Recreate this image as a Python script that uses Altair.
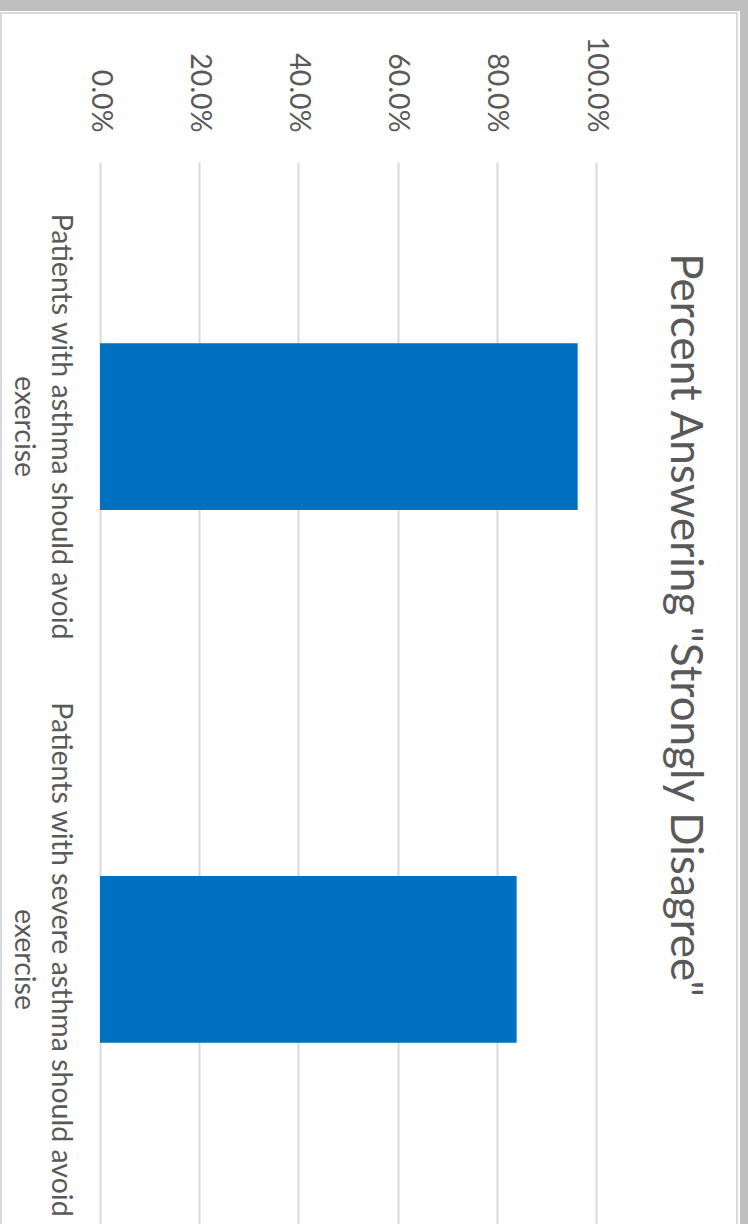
import altair as alt
import pandas as pd

# Survey statements and the share of respondents answering "Strongly Disagree"
statements = [
    "Patients with asthma should avoid exercise",
    "Patients with severe asthma should avoid exercise",
]
share_strongly_disagree = [0.963, 0.840]
tick_values = [0.0, 0.2, 0.4, 0.6, 0.8, 1.0]
chart_title = 'Percent Answering "Strongly Disagree"'

df = pd.DataFrame({"statement": statements, "share": share_strongly_disagree})

FONT = "Lato"
TEXT = "#595959"
BAR = "#0070c0"
GRID = "#d9d9d9"
FRAME = "#bfbfbf"

# wrap each category label before its last word
wrap_expr = (
    "[slice(datum.label, 0, lastindexof(datum.label, ' ')), "
    "slice(datum.label, lastindexof(datum.label, ' ') + 1)]"
)

bars = alt.Chart(df).mark_bar(color=BAR).encode(
    x=alt.X(
        "share:Q",
        scale=alt.Scale(domain=[0, 1], nice=False),
        axis=alt.Axis(
            orient="top", values=tick_values, format=".1%",
            labelAngle=90, labelAlign="right", labelBaseline="middle",
            labelPadding=30, ticks=False, domain=False,
            grid=True, gridColor=GRID, gridWidth=2,
            labelFont=FONT, labelFontSize=28.5, labelColor=TEXT, title=None,
        ),
    ),
    y=alt.Y(
        "statement:N", sort=statements,
        scale=alt.Scale(paddingInner=0.687, paddingOuter=0.34),
        axis=alt.Axis(
            orient="left", labelAngle=90, labelAlign="center",
            labelBaseline="top", labelPadding=26, ticks=False, domain=False,
            labelFont=FONT, labelFontSize=28.5, labelColor=TEXT,
            labelLimit=1000, labelLineHeight=37, labelExpr=wrap_expr,
            title=None,
        ),
    ),
)

one = pd.DataFrame({"k": [0]})

# window frame: thin light border plus grey strips on the top and right
border = alt.Chart(one).mark_rect(
    fill="white", fillOpacity=0, stroke=GRID, strokeWidth=2
).encode(
    x=alt.value(-99), x2=alt.value(637), y=alt.value(-149), y2=alt.value(1090)
)
top_strip = alt.Chart(one).mark_rect(color=FRAME).encode(
    x=alt.value(-100), x2=alt.value(648), y=alt.value(-162), y2=alt.value(-151)
)
right_strip = alt.Chart(one).mark_rect(color=FRAME).encode(
    x=alt.value(640), x2=alt.value(648), y=alt.value(-162), y2=alt.value(1062)
)

chart = (
    alt.layer(bars, border, top_strip, right_strip)
    .properties(
        width=496,
        height=1062,
        autosize=alt.AutoSizeParams(type="none"),
        padding={"left": 100, "top": 162, "right": 152, "bottom": 0},
        background="white",
        title=alt.TitleParams(
            text=chart_title, orient="right", anchor="middle", frame="group",
            font=FONT, fontSize=44, fontWeight="normal", color=TEXT,
            offset=-86, dx=-68,
        ),
    )
    .configure_view(stroke=None)
)

chart.save("out.html", embed_options={"renderer": "svg", "actions": False})
